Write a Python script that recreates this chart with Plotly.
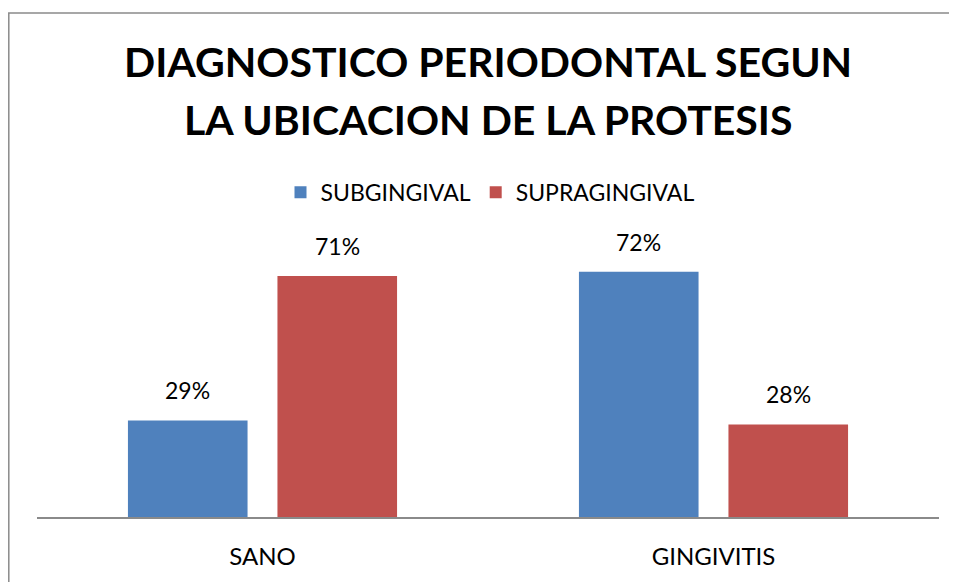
import plotly.graph_objects as go

categories = ["SANO", "GINGIVITIS"]
series_names = ["SUBGINGIVAL", "SUPRAGINGIVAL"]
subgingival = [28.6, 72.6]
supragingival = [71.4, 27.4]
sub_labels = ["29%", "72%"]
supra_labels = ["71%", "28%"]
title_lines = ["DIAGNOSTICO PERIODONTAL SEGUN", "LA UBICACION DE LA PROTESIS"]

FONT = "Lato"
# page body has an 8px margin, so the figure is 8px smaller than the window
W, H = 949, 574
ML, MR, MT, MB = 29, 18, 222, 63
PW = W - ML - MR
PH = H - MT - MB
BASE = H - MB


def py(ypix):
    return (BASE - ypix) / PH


fig = go.Figure()
fig.add_trace(go.Bar(name=series_names[0], x=categories, y=subgingival,
                     marker=dict(color="#4F81BD", line=dict(width=0))))
fig.add_trace(go.Bar(name=series_names[1], x=categories, y=supragingival,
                     marker=dict(color="#C0504D", line=dict(width=0))))

slot = PW / 2 * (1 - 0.337) / 2
for vals, labs, off in [(subgingival, sub_labels, -slot / 2), (supragingival, supra_labels, slot / 2)]:
    for c, v, t in zip(categories, vals, labs):
        fig.add_annotation(x=c, y=v, text=t, showarrow=False, xshift=off, yshift=14,
                           yanchor="bottom", font=dict(family=FONT, size=23, color="#000000"))

for line, ypix in zip(title_lines, [52, 111]):
    fig.add_annotation(xref="paper", yref="paper", x=(480 - ML) / PW, y=py(ypix),
                       text="<b>" + line + "</b>", showarrow=False,
                       xanchor="center", yanchor="middle",
                       font=dict(family=FONT, size=41, color="#000000"))

fig.add_shape(type="rect", xref="paper", yref="paper",
              x0=(0.8 - ML) / PW, x1=1.2, y0=-0.5, y1=py(3.5),
              line=dict(color="#8a8a8a", width=1.5), fillcolor="rgba(0,0,0,0)", layer="below")

fig.update_layout(
    width=W, height=H,
    margin=dict(l=ML, r=MR, t=MT, b=MB),
    paper_bgcolor="white", plot_bgcolor="white",
    barmode="group", bargap=0.337, bargroupgap=0.2,
    legend=dict(orientation="h", x=(482 - ML) / PW, xanchor="center", y=py(184), yanchor="middle",
                font=dict(family=FONT, size=23, color="#000000"), itemwidth=30),
    showlegend=True,
    xaxis=dict(showline=True, linecolor="#8a8a8a", linewidth=1.5, ticks="outside",
               ticklen=17, tickcolor="rgba(0,0,0,0)",
               tickfont=dict(family=FONT, size=24, color="#000000")),
    yaxis=dict(range=[0, 85], visible=False, showgrid=False),
)

fig.write_html("out.html")
